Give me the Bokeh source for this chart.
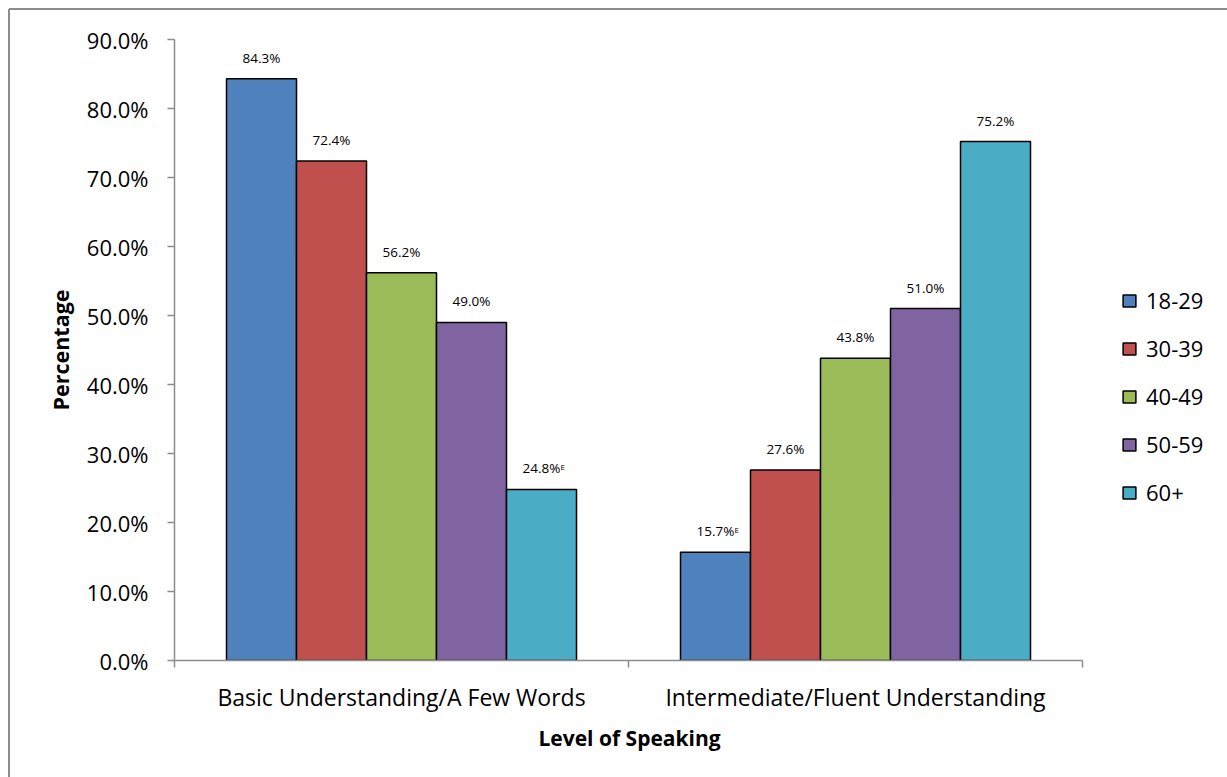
from bokeh.plotting import figure
from bokeh.models import (ColumnDataSource, Range1d, FixedTicker, PrintfTickFormatter,
                          Legend, LegendItem, Title)
from bokeh.core.properties import value
from bokeh.embed import file_html
from bokeh.resources import INLINE

groups = ["Basic Understanding/A Few Words", "Intermediate/Fluent Understanding"]
ages = ["18-29", "30-39", "40-49", "50-59", "60+"]
basic = [84.3, 72.4, 56.2, 49.0, 24.8]
fluent = [15.7, 27.6, 43.8, 51.0, 75.2]
basic_flags = ["", "", "", "", "E"]
fluent_flags = ["E", "", "", "", ""]
colors = ["#4F81BD", "#C0504D", "#9BBB59", "#8064A2", "#4BACC6"]
yticks = [0, 10, 20, 30, 40, 50, 60, 70, 80, 90]
x_title = "Level of Speaking"
y_title = "Percentage"

FONT = "Open Sans"
GRAY = "#8c8c8c"
AXIS_W = 908          # pixel width of the category axis
FRAME_W = 1043        # frame extends right to hold the legend
BAR_W = 70 / 454.0    # bar width in group units
n = len(groups)

frame_bg = ("linear-gradient(%s,%s) 9px 8px/100%% 2px no-repeat, "
            "linear-gradient(%s,%s) 8px 9px/2px 100%% no-repeat, #ffffff") % (GRAY, GRAY, GRAY, GRAY)

p = figure(frame_width=FRAME_W, frame_height=621, output_backend="svg", toolbar_location=None,
           x_range=Range1d(0, n * FRAME_W / AXIS_W), y_range=Range1d(0, 90),
           min_border_left=174, min_border_right=10, min_border_top=39,
           min_border_bottom=117, background_fill_color="white",
           border_fill_alpha=0, outline_line_color=None,
           styles={"background": frame_bg})
p.xgrid.visible = False
p.ygrid.visible = False

series = [basic, fluent]
flags = [basic_flags, fluent_flags]
legend_items = []
for j, age in enumerate(ages):
    xs = [g + 0.5 + (j - 2) * BAR_W for g in range(n)]
    vals = [series[g][j] for g in range(n)]
    labs = ["%.1f%%" % v for v in vals]
    fl = [flags[g][j] for g in range(n)]
    src = ColumnDataSource(dict(x=xs, top=vals, lab=labs, fl=fl))
    r = p.vbar(x="x", top="top", bottom=0, width=BAR_W, source=src,
               fill_color=colors[j], line_color="black", line_width=1.5)
    legend_items.append(LegendItem(label=age, renderers=[r]))
    p.text(x="x", y="top", text="lab", source=src, text_align="center",
           text_baseline="bottom", y_offset=-12, text_font=value(FONT),
           text_font_size="13.5px", text_color="black")
    p.text(x="x", y="top", text="fl", source=src, text_align="left",
           text_baseline="bottom", y_offset=-17, x_offset=19, text_font=value(FONT),
           text_font_size="8px", text_color="black")

legend = Legend(items=legend_items, location=(947, 153), orientation="vertical",
                glyph_width=16, glyph_height=15, label_standoff=9, spacing=18,
                label_height=20, padding=0, margin=0, border_line_color=None,
                background_fill_alpha=0, label_text_font=FONT,
                label_text_font_size="22px", label_text_color="black")
p.add_layout(legend, "center")

# axes
xa = p.xaxis[0]
xa.bounds = (0, n)
xa.ticker = FixedTicker(ticks=[g + 0.5 for g in range(n)], minor_ticks=list(range(n + 1)))
xa.major_label_overrides = {g + 0.5: groups[g] for g in range(n)}
xa.major_tick_line_color = None
xa.minor_tick_in = 0
xa.minor_tick_out = 7
xa.minor_tick_line_color = GRAY
xa.minor_tick_line_width = 1.5
xa.axis_line_color = GRAY
xa.axis_line_width = 1.5
xa.major_label_standoff = 13
xa.major_label_text_font = FONT
xa.major_label_text_font_size = "23px"
xa.major_label_text_color = "black"

# x-axis title, centred under the category axis (not the wider frame)
xt = Title(text=x_title, align="left", offset=364, vertical_align="top", standoff=16,
           text_font=FONT, text_font_style="bold", text_font_size="21px",
           text_color="black")
p.add_layout(xt, "below")

ya = p.yaxis[0]
ya.bounds = (0, 90)
ya.ticker = FixedTicker(ticks=yticks, minor_ticks=[])
ya.formatter = PrintfTickFormatter(format="%.1f%%")
ya.major_tick_in = 0
ya.major_tick_out = 7
ya.major_tick_line_color = GRAY
ya.major_tick_line_width = 1.5
ya.axis_line_color = GRAY
ya.axis_line_width = 1.5
ya.major_label_standoff = 19
ya.major_label_text_font = FONT
ya.major_label_text_font_size = "22px"
ya.major_label_text_color = "black"
ya.axis_label = y_title
ya.axis_label_text_font = FONT
ya.axis_label_text_font_style = "bold"
ya.axis_label_text_font_size = "21.5px"
ya.axis_label_text_color = "black"
ya.axis_label_standoff = 9

open("out.html", "w").write(file_html(p, INLINE))
